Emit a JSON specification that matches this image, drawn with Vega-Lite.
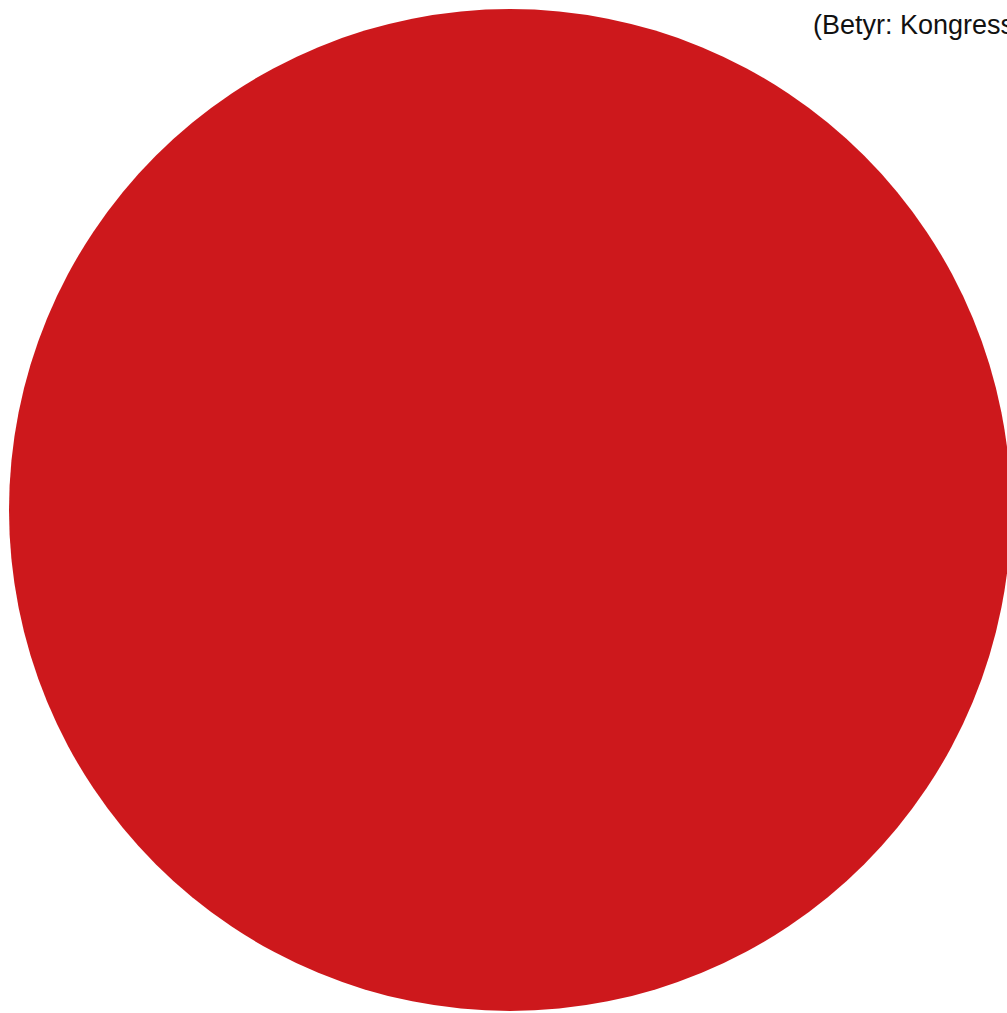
{
  "$schema": "https://vega.github.io/schema/vega-lite/v6.json",
  "width": 1020,
  "height": 1020,
  "padding": 0,
  "autosize": {"type": "none"},
  "background": "white",
  "title": {
    "text": "(Betyr: Kongresspartiet)",
    "orient": "top",
    "anchor": "start",
    "frame": "bounds",
    "dx": 813,
    "offset": -61,
    "baseline": "alphabetic",
    "font": "Liberation Sans",
    "fontSize": 27,
    "fontWeight": "normal",
    "color": "#111111"
  },
  "data": {"values": [{"parti": "Kongress", "andel": 100}]},
  "mark": {"type": "arc", "radius": 501, "stroke": null},
  "encoding": {
    "theta": {"field": "andel", "type": "quantitative"},
    "color": {"field": "parti", "type": "nominal", "scale": {"range": ["#cd181c"]}, "legend": null}
  },
  "config": {"view": {"stroke": null}}
}
